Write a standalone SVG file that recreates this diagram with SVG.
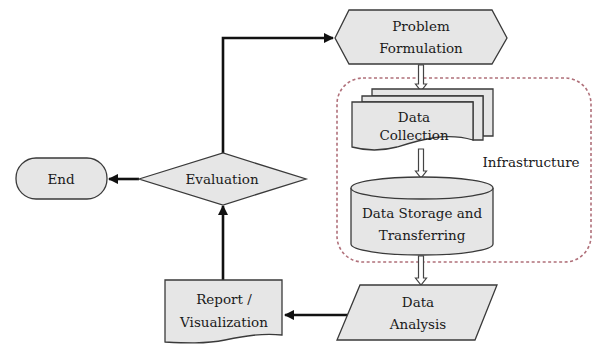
<svg xmlns="http://www.w3.org/2000/svg" width="594" height="345" viewBox="0 0 594 345">
<defs>
<style>
.shape{fill:#e6e6e6;stroke:#3a3a3a;stroke-width:1.3}
.lbl{font-family:"DejaVu Serif",serif;font-size:13.5px;fill:#1a1a1a;text-anchor:middle}
.conn{fill:none;stroke:#111;stroke-width:2.6}
.hollow{fill:#fff;stroke:#444;stroke-width:1.2}
</style>
<marker id="ah" viewBox="0 0 10 10" refX="9" refY="5" markerWidth="4" markerHeight="4" orient="auto" markerUnits="strokeWidth">
<path d="M0,0 L10,5 L0,10 Z" fill="#111"/>
</marker>
</defs>
<rect width="594" height="345" fill="#fff"/>

<g id="infrastructure">
<rect x="337" y="78" width="254" height="184" rx="26" ry="26" fill="none" stroke="#b0707a" stroke-width="1.6" stroke-dasharray="3,2.5"/>
<text class="lbl" x="531" y="167">Infrastructure</text>
</g>

<g id="connectors">
<path class="conn" d="M223,153 V38 H333" marker-end="url(#ah)"/>
<path class="conn" d="M139,179 H109" marker-end="url(#ah)"/>
<path class="conn" d="M223,281 V206" marker-end="url(#ah)"/>
<path class="conn" d="M358,315 H285" marker-end="url(#ah)"/>
<polygon class="hollow" points="418.5,65 423.5,65 423.5,84 426.5,84 421,91 415.5,84 418.5,84"/>
<polygon class="hollow" points="418.5,149 423.5,149 423.5,171 426.5,171 421,178 415.5,171 418.5,171"/>
<polygon class="hollow" points="418.5,256 423.5,256 423.5,278 426.5,278 421,285 415.5,278 418.5,278"/>
</g>

<g id="problem">
<polygon class="shape" points="335,38 349,10 492,10 507,38 492,64 349,64"/>
<text class="lbl" x="421" y="31">Problem</text>
<text class="lbl" x="421" y="53">Formulation</text>
</g>

<g id="collection">
<path class="shape" d="M372,89 H493 V136 L483,136 V96 H372 Z"/>
<path class="shape" d="M362,96 H483 V140 L473,140 V102 H362 Z"/>
<path class="shape" d="M352,102 H473 V140 C445,132 420,140 397,147 C378,152 363,150 352,147 Z"/>
<text class="lbl" x="414" y="122">Data</text>
<text class="lbl" x="414" y="140">Collection</text>
</g>

<g id="storage">
<path class="shape" d="M351,188 V244 A71,11 0 0 0 493,244 V188"/>
<ellipse class="shape" cx="422" cy="188" rx="71" ry="11"/>
<text class="lbl" x="422" y="218">Data Storage and</text>
<text class="lbl" x="422" y="240">Transferring</text>
</g>

<g id="analysis">
<polygon class="shape" points="360,285 497,285 475,340 337,340"/>
<text class="lbl" x="418" y="307">Data</text>
<text class="lbl" x="418" y="329">Analysis</text>
</g>

<g id="report">
<path class="shape" d="M165,280 H282 V335 C262,333 245,336 225,340 C205,344 185,343 165,342 Z"/>
<text class="lbl" x="224" y="304">Report /</text>
<text class="lbl" x="224" y="327">Visualization</text>
</g>

<g id="evaluation">
<polygon class="shape" points="139,179 223,153 306,179 223,205"/>
<text class="lbl" x="222" y="184">Evaluation</text>
</g>

<g id="end">
<rect class="shape" x="16" y="158" width="91" height="41" rx="20" ry="20"/>
<text class="lbl" x="61" y="184">End</text>
</g>
</svg>
